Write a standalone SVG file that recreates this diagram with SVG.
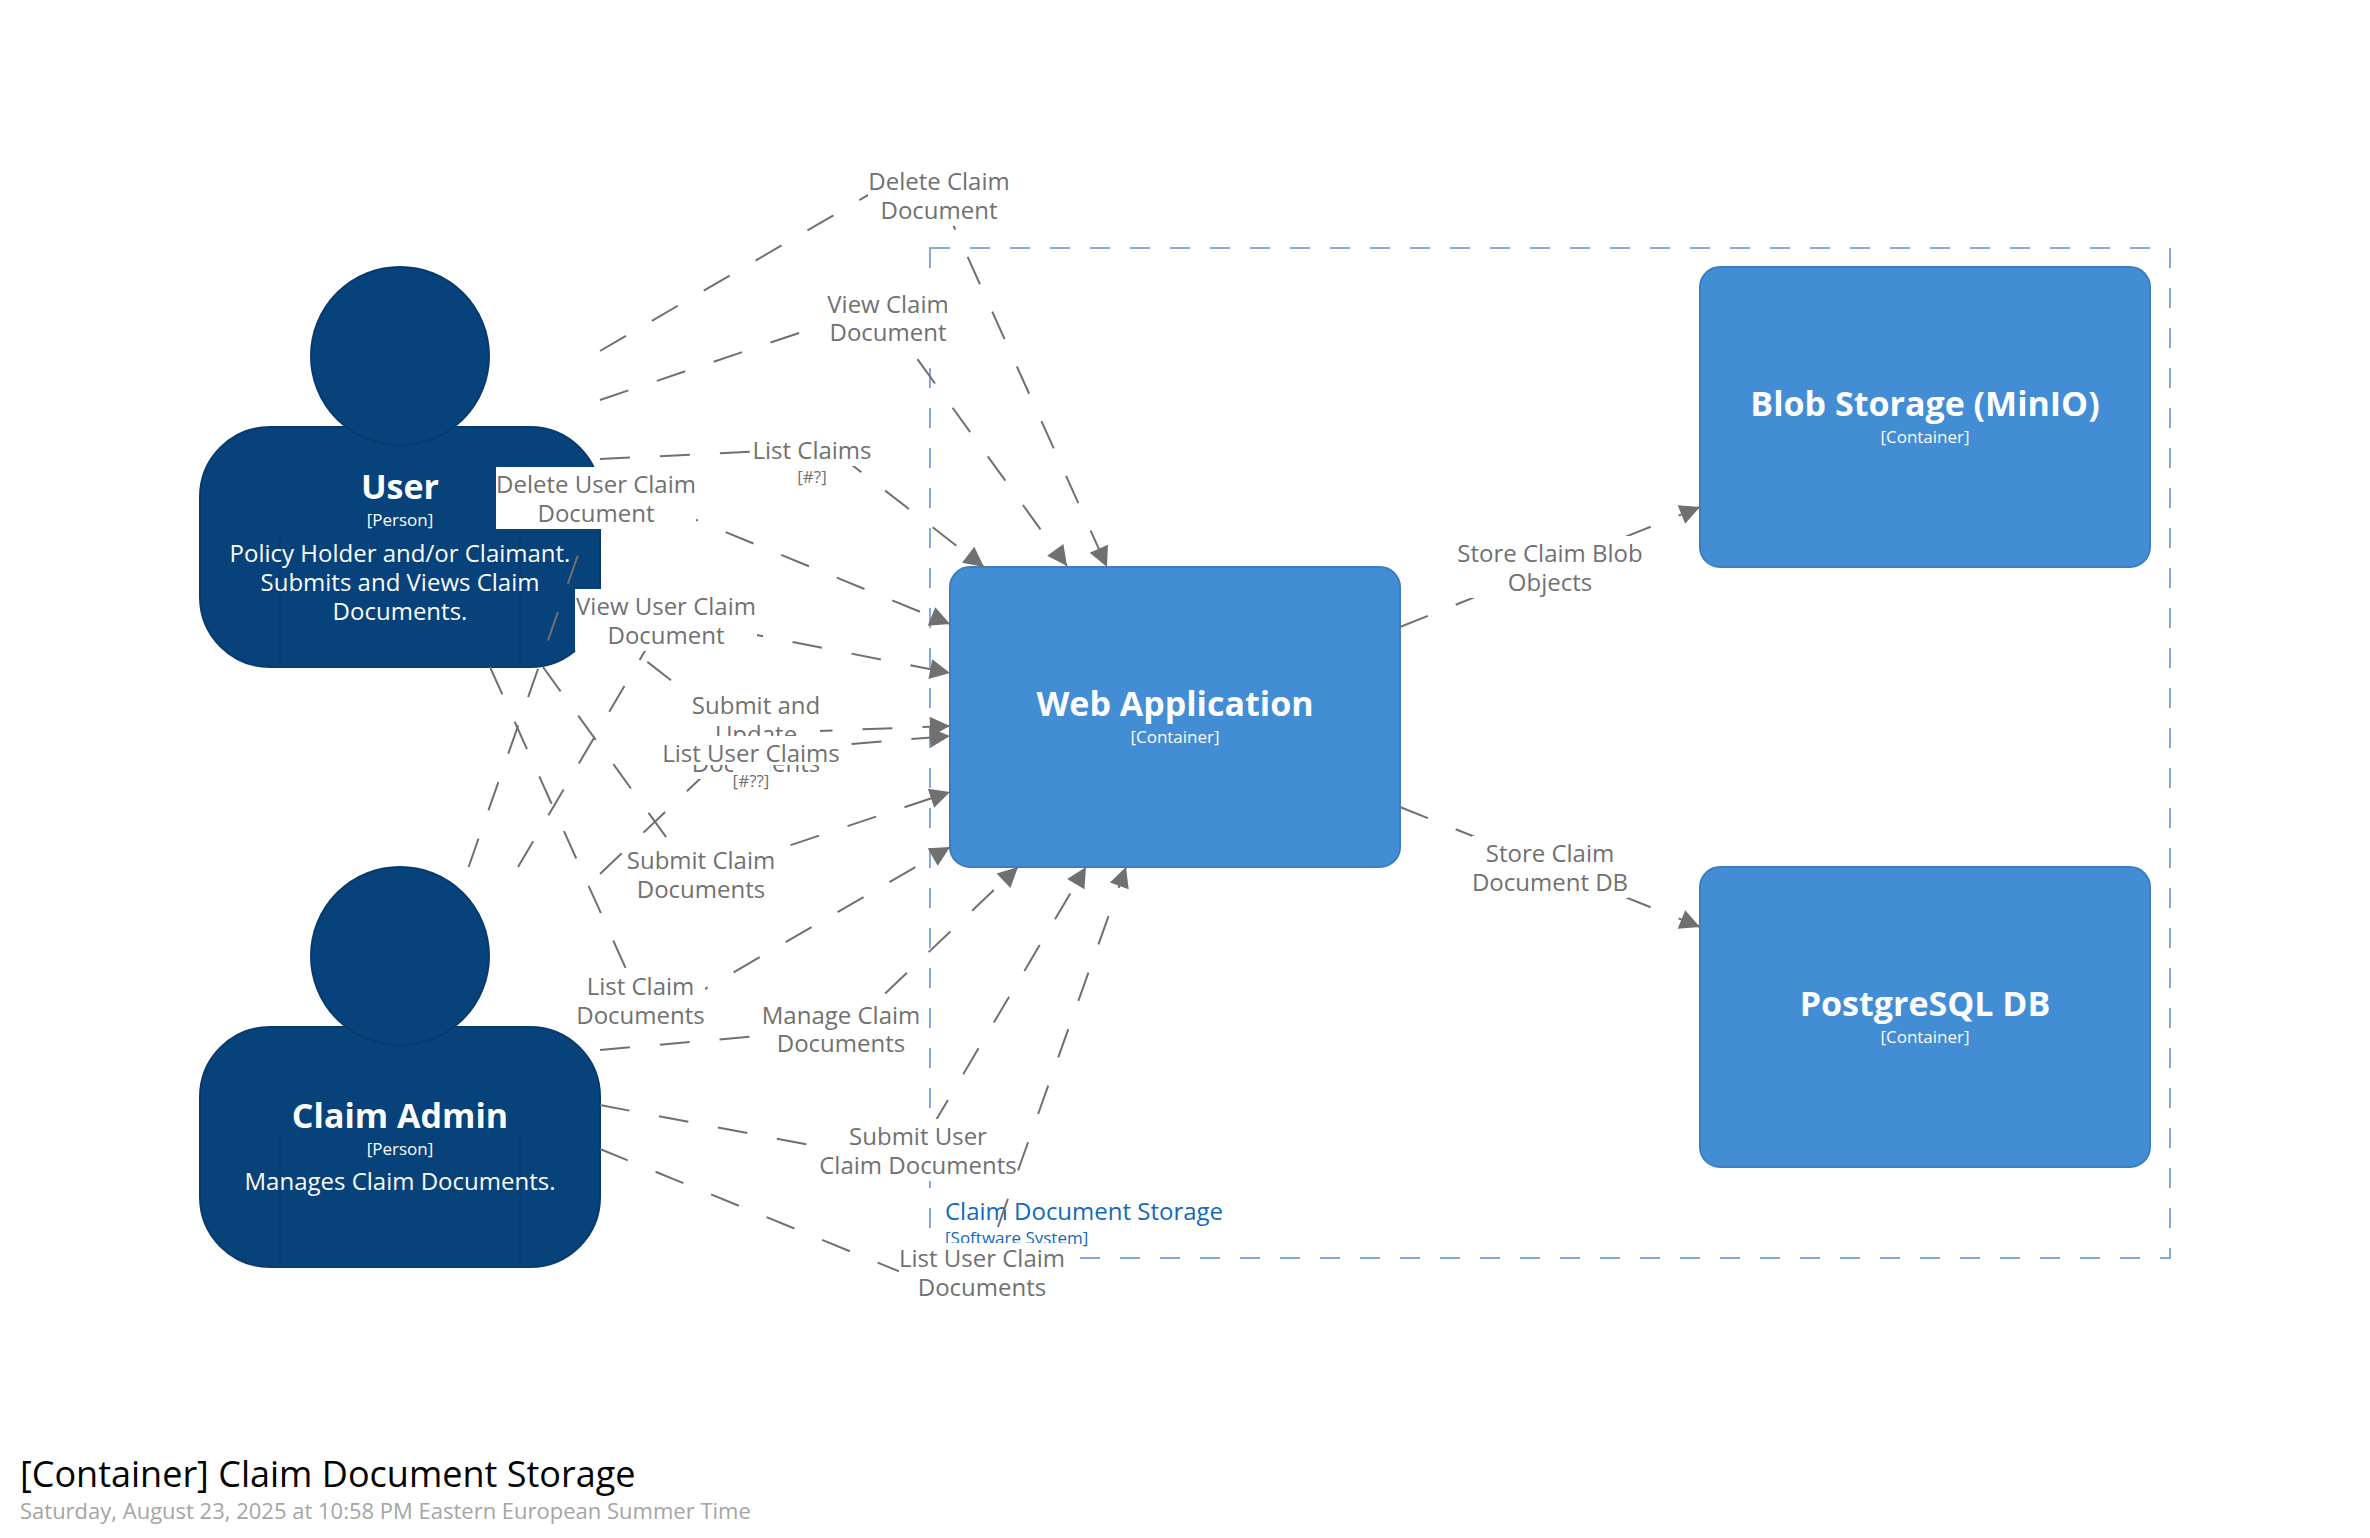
<svg xmlns="http://www.w3.org/2000/svg" width="2370" height="1538" viewBox="0 0 2370 1538">
<style>
text{font-family:"Open Sans","Noto Sans",sans-serif;text-anchor:middle;opacity:.99}
.bd{fill:none;stroke:#85ABDA;stroke-width:2;stroke-dasharray:20 20}
.p{fill:#08427B;stroke:#073B6F;stroke-width:2}
.pl{fill:none;stroke:#073B6F;stroke-width:1.5}
.c{fill:#438DD5;stroke:#3C7FC0;stroke-width:2}
.t{fill:#fff;font-size:34px;font-weight:700}
.m{fill:#fff;font-size:17px}
.d{fill:#fff;font-size:24px}
.l{fill:none;stroke:#707070;stroke-width:2;stroke-dasharray:30 30;marker-end:url(#a)}
.bg{fill:#fff}
.lt{fill:#707070;font-size:24px}
.ls{fill:#707070;font-size:17px}
</style>
<defs>
<marker id="a" markerUnits="userSpaceOnUse" markerWidth="20" markerHeight="20" refX="20" refY="10" orient="auto" overflow="visible"><path d="M0 0L20 10L0 20z" fill="#707070"/></marker>
</defs>
<rect width="2370" height="1538" fill="#fff"/>
<g id="boundary">
<rect class="bd" x="930" y="248" width="1240" height="1010"/>
<text x="945" y="1220" fill="#1168BD" font-size="24" style="text-anchor:start">Claim Document Storage</text>
<text x="945" y="1244" fill="#1168BD" font-size="17" style="text-anchor:start">[Software System]</text>
</g>
<g id="user">
<rect class="p" x="200" y="427" width="400" height="240" rx="70"/>
<circle class="p" cx="400" cy="356" r="89"/>
<path class="pl" d="M280 533V667M520 533V667"/>
<text class="t" x="400" y="498.500">User</text>
<text class="m" x="400" y="526">[Person]</text>
<text class="d" x="400" y="562">Policy Holder and/or Claimant.</text>
<text class="d" x="400" y="591">Submits and Views Claim</text>
<text class="d" x="400" y="620">Documents.</text>
</g>
<g id="claim-admin">
<rect class="p" x="200" y="1027" width="400" height="240" rx="70"/>
<circle class="p" cx="400" cy="956" r="89"/>
<path class="pl" d="M280 1133V1267M520 1133V1267"/>
<text class="t" x="400" y="1128">Claim Admin</text>
<text class="m" x="400" y="1155">[Person]</text>
<text class="d" x="400" y="1190">Manages Claim Documents.</text>
</g>
<g id="web-application">
<rect class="c" x="950" y="567" width="450" height="300" rx="20"/>
<text class="t" x="1175" y="716">Web Application</text>
<text class="m" x="1175" y="743">[Container]</text>
</g>
<g id="blob-storage">
<rect class="c" x="1700" y="267" width="450" height="300" rx="20"/>
<text class="t" x="1925" y="416">Blob Storage (MinIO)</text>
<text class="m" x="1925" y="443">[Container]</text>
</g>
<g id="postgresql-db">
<rect class="c" x="1700" y="867" width="450" height="300" rx="20"/>
<text class="t" x="1925" y="1016">PostgreSQL DB</text>
<text class="m" x="1925" y="1043">[Container]</text>
</g>
<g id="connectors">
<path class="l" d="M600 351L925 162L1107 567"/>
<path class="l" d="M600 400L879 306L1067 566"/>
<path class="l" d="M600 459L830 448L984 567"/>
<path class="l" d="M600 625L740 734L950 726"/>
<path class="l" d="M543 667L695 877L950 792"/>
<path class="l" d="M490 667L646 1013.300L656.900 1016.750L950 847"/>
<path class="l" d="M468.600 867L603.500 482L950 624"/>
<path class="l" d="M518 867L665 617L950 673"/>
<path class="l" d="M600 874L726 754L950 736"/>
<path class="l" d="M600 1050L849 1028L1018 867"/>
<path class="l" d="M600 1105L910 1164L1086 867"/>
<path class="l" d="M600 1149L971.600 1301L1126 867"/>
<path class="l" d="M1400 627L1700 507"/>
<path class="l" d="M1400 807L1700 927"/>
<g id="label-delete-claim"><rect class="bg" x="868" y="160" width="143" height="66"/><text class="lt" x="939" y="190">Delete Claim</text><text class="lt" x="939" y="219">Document</text></g>
<g id="label-view-claim"><rect class="bg" x="826" y="287" width="124" height="61"/><text class="lt" x="888" y="313">View Claim</text><text class="lt" x="888" y="341">Document</text></g>
<g id="label-list-claims"><rect class="bg" x="753" y="433" width="118" height="33"/><text class="lt" x="812" y="459">List Claims</text><rect class="bg" x="798" y="466" width="28" height="24"/><text class="ls" x="812" y="483">[#?]</text></g>
<g id="label-submit-update"><rect class="bg" x="692" y="690" width="128" height="89"/><text class="lt" x="756" y="714">Submit and</text><text class="lt" x="756" y="743">Update</text><text class="lt" x="756" y="772">Documents</text></g>
<g id="label-submit-claim"><rect class="bg" x="627" y="843" width="148" height="62"/><text class="lt" x="701" y="869">Submit Claim</text><text class="lt" x="701" y="898">Documents</text></g>
<g id="label-list-claim"><rect class="bg" x="577" y="969" width="128" height="61"/><text class="lt" x="640.500" y="995">List Claim</text><text class="lt" x="640.500" y="1024">Documents</text></g>
<g id="label-delete-user"><rect class="bg" x="496" y="467" width="200" height="62"/><text class="lt" x="596" y="493">Delete User Claim</text><text class="lt" x="596" y="522">Document</text></g>
<g id="label-view-user"><rect class="bg" x="575" y="589" width="182" height="62"/><text class="lt" x="666" y="615">View User Claim</text><text class="lt" x="666" y="644">Document</text></g>
<g id="label-list-user-claims"><rect class="bg" x="663" y="736" width="176" height="29"/><text class="lt" x="751" y="762">List User Claims</text><rect class="bg" x="733" y="765" width="37" height="28"/><text class="ls" x="751" y="787">[#??]</text></g>
<g id="label-manage"><rect class="bg" x="762" y="998" width="158" height="61"/><text class="lt" x="841" y="1024">Manage Claim</text><text class="lt" x="841" y="1052">Documents</text></g>
<g id="label-submit-user"><rect class="bg" x="820" y="1119" width="197" height="62"/><text class="lt" x="918" y="1145">Submit User</text><text class="lt" x="918" y="1174">Claim Documents</text></g>
<g id="label-list-user-claim"><rect class="bg" x="899" y="1243" width="167" height="61"/><text class="lt" x="982" y="1267">List User Claim</text><text class="lt" x="982" y="1296">Documents</text></g>
<g id="label-store-blob"><rect class="bg" x="1457" y="536" width="186" height="62"/><text class="lt" x="1550" y="562">Store Claim Blob</text><text class="lt" x="1550" y="591">Objects</text></g>
<g id="label-store-db"><rect class="bg" x="1472" y="836" width="156" height="62"/><text class="lt" x="1550" y="862">Store Claim</text><text class="lt" x="1550" y="891">Document DB</text></g>
</g>
<g id="title">
<text x="20" y="1487" fill="#000" font-size="36" style="text-anchor:start">[Container] Claim Document Storage</text>
<text x="20" y="1519" fill="#A5A5A5" font-size="22" style="text-anchor:start">Saturday, August 23, 2025 at 10:58 PM Eastern European Summer Time</text>
</g>
</svg>
